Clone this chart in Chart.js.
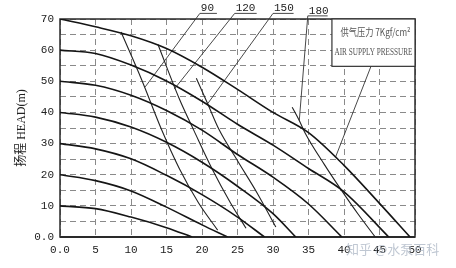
<!DOCTYPE html>
<html>
<head>
<meta charset="utf-8">
<script src="https://cdn.jsdelivr.net/npm/chart.js@4/dist/chart.umd.min.js"></script>
<style>
    html, body { margin: 0; padding: 0; background: #fff; }
</style>
</head>
<body>
<canvas id="chart" width="456" height="268"></canvas>
<script>
// head (m) against flow (m3/h), one curve per air supply pressure 1..7 kgf/cm2
const curve10 = [[0, 10], [5, 9.1], [10, 6.4], [15, 3.0], [18.6, 0]];
const curve20 = [[0, 20], [5, 18.1], [10, 14.8], [15, 9.6], [20, 3.9], [23.6, 0]];
const curve30 = [[0, 30], [5, 28.3], [10, 25.1], [15, 19.8], [20, 13.6], [25, 6.4], [28.8, 0]];
const curve40 = [[0, 40], [5, 38.5], [10, 35.3], [15, 30.4], [20, 24], [25, 16.3], [30, 7.5], [33.2, 0]];
const curve50 = [[0, 50], [5, 48.7], [10, 45.5], [15, 40.6], [20, 34.3], [25, 26.5], [30, 19.2], [35, 10.6], [39.7, 0]];
const curve60 = [[0, 60], [5, 58.9], [10, 55.2], [15, 50.1], [20, 43.6], [25, 36.2], [30, 29.5], [35, 22], [40, 14.5], [46.3, 0]];
const curve70 = [[0, 70], [5, 67.5], [10, 64.6], [15, 60.5], [20, 54.5], [25, 47.4], [30, 40], [35, 33.5], [40, 23], [45, 10.8], [49.3, 0]];

// air consumption lines
const air90 = [[8.6, 65.8], [11.5, 50.5], [14.3, 34.5], [16.8, 22], [19.5, 11], [22.2, 2.2]];
const air120 = [[13.8, 61.8], [16.8, 44.4], [18.9, 34], [21.5, 21.5], [24, 11], [26.2, 2.8]];
const air150 = [[19.2, 51], [20.8, 42.8], [22.4, 34.5], [25, 24.5], [27.8, 14], [30.4, 3.2]];
const air180 = [[32.7, 41.7], [33.7, 37.4], [34.5, 33.5], [37.2, 23.4], [39.7, 14.8], [42, 7.3], [44.4, 0]];

// label leaders: underline end, underline start, point on the line
const leader90 = [[22.1, 71.8], [19.7, 71.8], [12.0, 48.2]];
const leader120 = [[27.7, 71.8], [24.6, 71.8], [16.1, 47.5]];
const leader150 = [[32.9, 71.8], [30.0, 71.8], [20.8, 42.8]];
const leader180 = [[37.7, 71.0], [34.9, 71.0], [33.7, 37.4]];
const leaderPressure = [[43.8, 54.8], [38.8, 25.6]];

const airLabels = ['90', '120', '150', '180'];
const xTickLabels = ['0.0', '5', '10', '15', '20', '25', '30', '35', '40', '45', '50'];
const yTickLabels = ['0.0', '10', '20', '30', '40', '50', '60', '70'];

const MONO = "'Liberation Mono', 'DejaVu Sans Mono', monospace";

function pts(arr) {
    return arr.map(p => ({ x: p[0], y: p[1] }));
}

function curveSet(arr) {
    return {
        data: pts(arr),
        showLine: true,
        borderColor: '#151515',
        borderWidth: 1.6,
        pointRadius: 0,
        cubicInterpolationMode: 'monotone'
    };
}

function airSet(arr) {
    return {
        data: pts(arr),
        showLine: true,
        borderColor: '#222',
        borderWidth: 1.1,
        pointRadius: 0,
        cubicInterpolationMode: 'monotone'
    };
}

function leaderSet(arr) {
    return {
        data: pts(arr),
        showLine: true,
        borderColor: '#333',
        borderWidth: 0.9,
        pointRadius: 0,
        tension: 0,
        clip: false
    };
}

// solid frame round the plot
const framePlugin = {
    id: 'frame',
    beforeDatasetsDraw(chart) {
        const { ctx, chartArea: a } = chart;
        ctx.save();
        ctx.strokeStyle = '#2a2a2a';
        ctx.lineWidth = 1.5;
        ctx.strokeRect(a.left, a.top, a.right - a.left, a.bottom - a.top);
        ctx.lineWidth = 2;
        ctx.beginPath();
        ctx.moveTo(a.left, a.bottom);
        ctx.lineTo(a.right, a.bottom);
        ctx.stroke();
        ctx.restore();
    }
};

// pressure box, leader labels and watermark
const notesPlugin = {
    id: 'notes',
    afterDatasetsDraw(chart) {
        const { ctx, scales: { x, y } } = chart;
        ctx.save();

        const bx = x.getPixelForValue(38.3);
        const by = y.getPixelForValue(54.8);
        const right = x.getPixelForValue(50);
        const top = y.getPixelForValue(70);
        ctx.fillStyle = '#fff';
        ctx.fillRect(bx, top, right - bx, by - top);
        ctx.strokeStyle = '#333';
        ctx.lineWidth = 1.2;
        ctx.strokeRect(bx, top, right - bx, by - top);

        ctx.fillStyle = '#555';
        ctx.textAlign = 'center';
        ctx.textBaseline = 'middle';
        const cx = (bx + right) / 2;
        ctx.font = "10px 'Noto Sans CJK SC', 'Liberation Serif'";
        ctx.fillText('供气压力 7Kgf/cm²', cx + 2, top + 13, 70);
        ctx.font = "11px 'Liberation Serif'";
        ctx.fillText('AIR SUPPLY PRESSURE', cx, top + 33, 78);

        ctx.fillStyle = '#222';
        ctx.font = '11px ' + MONO;
        ctx.textAlign = 'left';
        ctx.textBaseline = 'alphabetic';
        [leader90, leader120, leader150, leader180].forEach((l, i) => {
            const px = x.getPixelForValue(l[1][0]);
            const py = y.getPixelForValue(l[1][1]);
            ctx.fillText(airLabels[i], px + 1, py - 2);
        });
        ctx.restore();
    },
    afterDraw(chart) {
        const { ctx } = chart;
        ctx.save();
        ctx.fillStyle = 'rgba(170, 180, 195, 0.75)';
        ctx.font = "13px 'Noto Sans CJK SC'";
        ctx.textAlign = 'left';
        ctx.textBaseline = 'middle';
        ctx.fillText('知乎 @水泵百科', 346, 249);
        ctx.restore();
    }
};

new Chart(document.getElementById('chart'), {
    type: 'scatter',
    data: {
        datasets: [
            curveSet(curve10), curveSet(curve20), curveSet(curve30), curveSet(curve40),
            curveSet(curve50), curveSet(curve60), curveSet(curve70),
            airSet(air90), airSet(air120), airSet(air150), airSet(air180),
            leaderSet(leader90), leaderSet(leader120), leaderSet(leader150), leaderSet(leader180),
            leaderSet(leaderPressure)
        ]
    },
    options: {
        responsive: false,
        animation: false,
        layout: { padding: { top: 19, right: 41, left: 0, bottom: 0 } },
        plugins: {
            legend: { display: false },
            tooltip: { enabled: false }
        },
        scales: {
            x: {
                type: 'linear',
                min: 0,
                max: 50,
                afterFit: scale => { scale.height = 31; },
                ticks: {
                    stepSize: 5,
                    autoSkip: false,
                    maxRotation: 0,
                    padding: 6,
                    color: '#222',
                    font: { family: MONO, size: 11 },
                    callback: v => xTickLabels[Math.round(v / 5)]
                },
                grid: { color: '#8a8a8a', lineWidth: 1, drawTicks: false },
                border: { display: false, dash: [6, 4] }
            },
            y: {
                type: 'linear',
                min: 0,
                max: 70,
                afterFit: scale => { scale.width = 60; },
                ticks: {
                    stepSize: 5,
                    autoSkip: false,
                    padding: 6,
                    color: '#222',
                    font: { family: MONO, size: 11 },
                    callback: v => (v % 10 === 0 ? yTickLabels[v / 10] : '')
                },
                grid: { color: '#8a8a8a', lineWidth: 1, drawTicks: false },
                border: { display: false, dash: [6, 4] },
                title: {
                    display: true,
                    text: '扬程 HEAD(m)',
                    color: '#222',
                    font: { family: "'Liberation Serif', 'Noto Sans CJK SC'", size: 12 },
                    padding: { top: 15, bottom: 0 }
                }
            }
        }
    },
    plugins: [framePlugin, notesPlugin]
});
</script>
</body>
</html>
